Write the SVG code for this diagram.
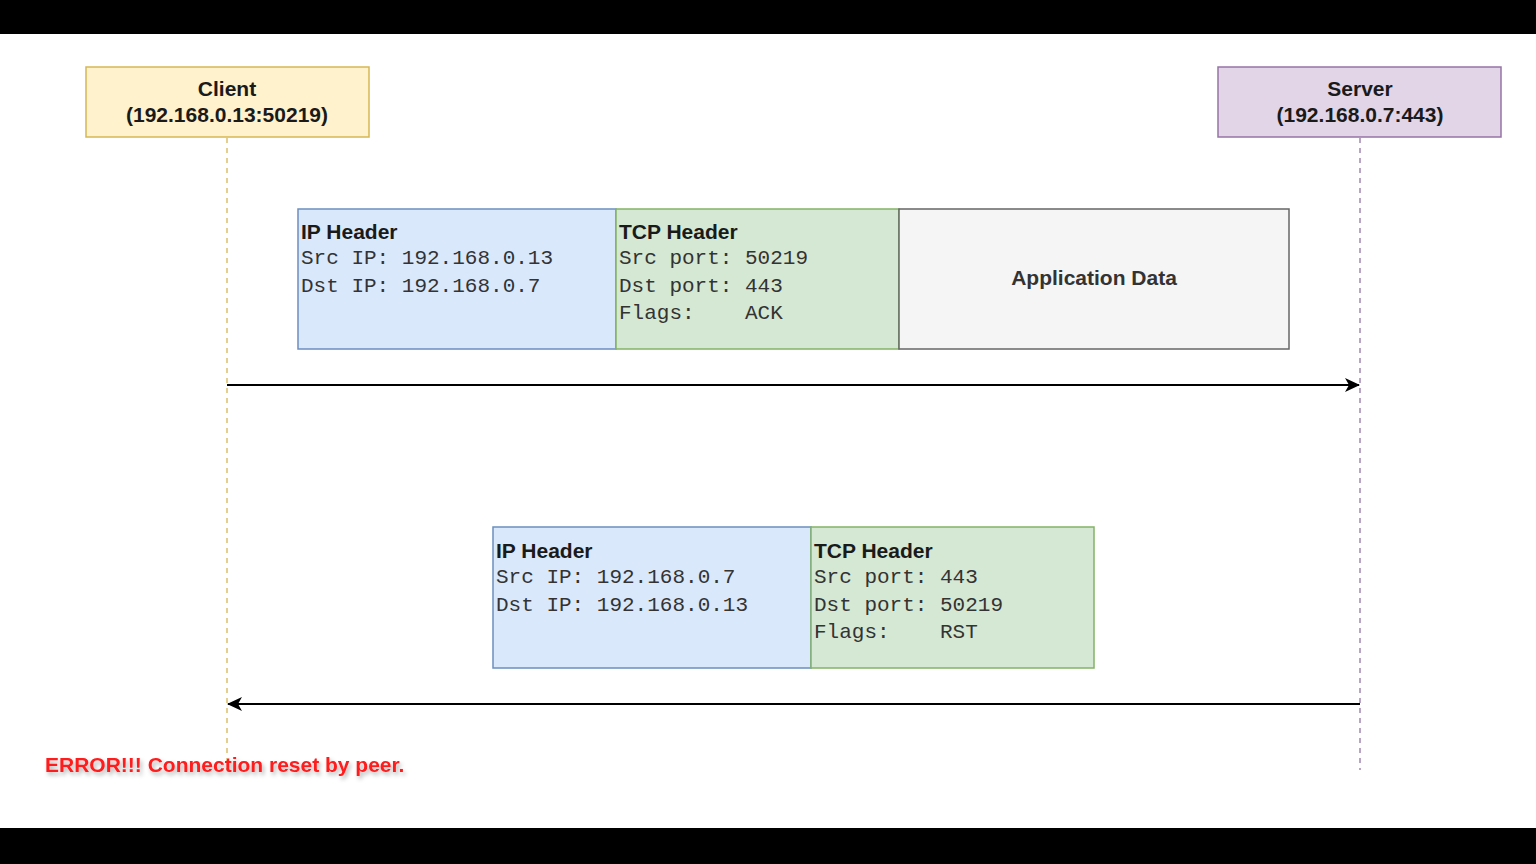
<svg xmlns="http://www.w3.org/2000/svg" width="1536" height="864" viewBox="0 0 1536 864">
<style>
.hdr{font-family:"Liberation Sans",Arial,sans-serif;font-weight:bold;font-size:21px;fill:#1a1a1a}
.mono{font-family:"Liberation Mono","Courier New",monospace;font-size:21px;fill:#333;white-space:pre}
.actor{font-family:"Liberation Sans",Arial,sans-serif;font-weight:bold;font-size:21px;fill:#1a1a1a;text-anchor:middle}
.ip{fill:#dae8fc;stroke:#6c8ebf;stroke-width:1.5}
.tcp{fill:#d5e8d4;stroke:#82b366;stroke-width:1.5}
.life{stroke-width:1.3;stroke-dasharray:5 5;fill:none}
.msg{stroke:#000;stroke-width:2;fill:none}
</style>
<defs>
<marker id="arr" markerWidth="16" markerHeight="14" refX="14" refY="7" orient="auto" markerUnits="userSpaceOnUse">
<path d="M0,0 L15,7 L0,14 L4,7 Z" fill="#000"/>
</marker>
<filter id="sh" x="-10%" y="-50%" width="120%" height="200%">
<feDropShadow dx="2" dy="3" stdDeviation="2" flood-color="#000" flood-opacity="0.3"/>
</filter>
</defs>
<rect x="0" y="0" width="1536" height="864" fill="#fff"/>
<rect x="0" y="0" width="1536" height="34" fill="#000"/>
<rect x="0" y="828" width="1536" height="36" fill="#000"/>

<g id="lifelines">
<line class="life" x1="227" y1="138" x2="227" y2="770" stroke="#d6b656"/>
<line class="life" x1="1360" y1="138" x2="1360" y2="770" stroke="#9673a6"/>
</g>

<g id="client">
<rect x="86" y="67" width="283" height="70" fill="#fff2cc" stroke="#d6b656" stroke-width="1.5"/>
<text class="actor" x="227" y="96">Client</text>
<text class="actor" x="227" y="122">(192.168.0.13:50219)</text>
</g>

<g id="server">
<rect x="1218" y="67" width="283" height="70" fill="#e1d5e7" stroke="#9673a6" stroke-width="1.5"/>
<text class="actor" x="1360" y="96">Server</text>
<text class="actor" x="1360" y="122">(192.168.0.7:443)</text>
</g>

<g id="pkt1-ip">
<rect class="ip" x="298" y="209" width="318" height="140"/>
<text class="hdr" x="301" y="239">IP Header</text>
<text class="mono" x="301" y="264">Src IP: 192.168.0.13</text>
<text class="mono" x="301" y="292">Dst IP: 192.168.0.7</text>
</g>

<g id="pkt1-tcp">
<rect class="tcp" x="616" y="209" width="283" height="140"/>
<text class="hdr" x="619" y="239">TCP Header</text>
<text class="mono" x="619" y="264">Src port: 50219</text>
<text class="mono" x="619" y="292">Dst port: 443</text>
<text class="mono" x="619" y="319" xml:space="preserve">Flags:    ACK</text>
</g>

<g id="pkt1-data">
<rect x="899" y="209" width="390" height="140" fill="#f5f5f5" stroke="#666666" stroke-width="1.5"/>
<text x="1094" y="285" text-anchor="middle" font-family="Liberation Sans, Arial, sans-serif" font-weight="bold" font-size="21" fill="#333">Application Data</text>
</g>

<g id="pkt2-ip">
<rect class="ip" x="493" y="527" width="318" height="141"/>
<text class="hdr" x="496" y="558">IP Header</text>
<text class="mono" x="496" y="583">Src IP: 192.168.0.7</text>
<text class="mono" x="496" y="611">Dst IP: 192.168.0.13</text>
</g>

<g id="pkt2-tcp">
<rect class="tcp" x="811" y="527" width="283" height="141"/>
<text class="hdr" x="814" y="558">TCP Header</text>
<text class="mono" x="814" y="583">Src port: 443</text>
<text class="mono" x="814" y="611">Dst port: 50219</text>
<text class="mono" x="814" y="638" xml:space="preserve">Flags:    RST</text>
</g>

<g id="connectors">
<line class="msg" x1="227" y1="385" x2="1359" y2="385" marker-end="url(#arr)"/>
<line class="msg" x1="1360" y1="704" x2="228" y2="704" marker-end="url(#arr)"/>
</g>

<g id="error">
<text x="45" y="772" filter="url(#sh)" font-family="Liberation Sans, Arial, sans-serif" font-weight="bold" font-size="21" fill="#ff1a1a">ERROR!!! Connection reset by peer.</text>
</g>
</svg>
